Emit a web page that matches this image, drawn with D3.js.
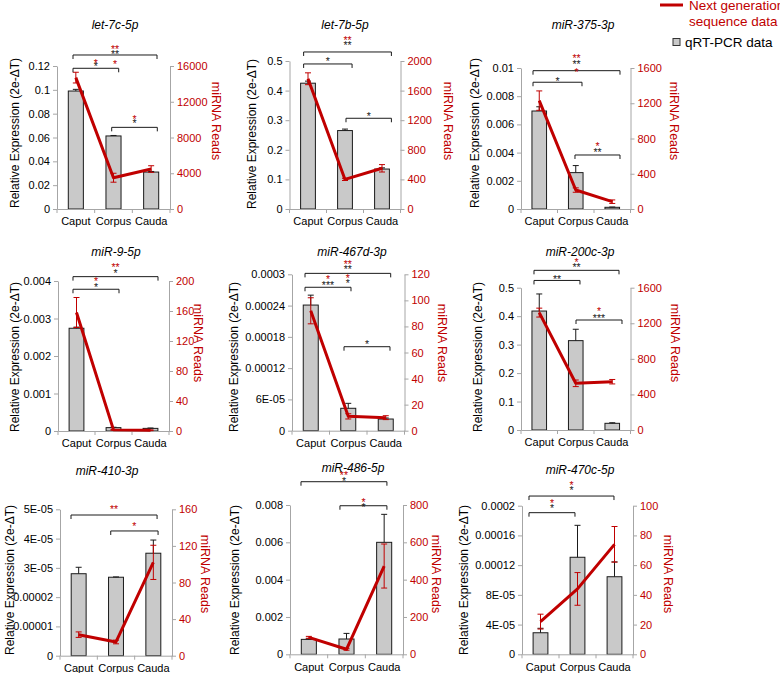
<!DOCTYPE html>
<html><head><meta charset="utf-8">
<script src="https://cdn.jsdelivr.net/npm/d3@7"></script>
<style>body{margin:0;background:#fff}svg{display:block}</style>
</head><body><svg id="c" width="780" height="673"></svg>
<script>
// ---------------- DATA ----------------
const categories = ["Caput", "Corpus", "Cauda"];
const titles = ["let-7c-5p", "let-7b-5p", "miR-375-3p", "miR-9-5p", "miR-467d-3p", "miR-200c-3p", "miR-410-3p", "miR-486-5p", "miR-470c-5p"];

// qRT-PCR relative expression (bars, left axis)
const qpcr = [
  [0.099, 0.0613, 0.031],
  [0.425, 0.265, 0.135],
  [0.00695, 0.00258, 0.00012],
  [0.00274, 0.00009, 0.00007],
  [0.000241, 0.000043, 0.0000224],
  [0.418, 0.314, 0.0235],
  [0.000028, 0.0000268, 0.000035],
  [0.0008, 0.00082, 0.006],
  [0.000029, 0.0001306, 0.0001044]
];
const qpcrErr = [
  [0.0014, 0.0004, 0.0005],
  [0.007, 0.005, 0.004],
  [0.0003, 0.0005, 0.00002],
  [0.00003, 0.00001, 0.00001],
  [0.000019, 0.0000095, 0.000002],
  [0.06, 0.04, 0.002],
  [0.0000022, 0.0000001, 0.0000045],
  [0.00003, 0.0003, 0.0015],
  [0.000006, 0.000043, 0.00002]
];
// Next generation sequencing reads (line, right axis)
const reads = [
  [14700, 3500, 4470],
  [1760, 400, 550],
  [1230, 215, 83],
  [158, 1.5, 1],
  [92, 11, 10],
  [1320, 525, 543],
  [23, 15, 102],
  [91, 27, 473],
  [22, 44, 74]
];
const readsErr = [
  [600, 500, 370],
  [80, 15, 50],
  [110, 25, 20],
  [20, 0.5, 0.5],
  [10, 2, 1.5],
  [50, 37, 25],
  [3, 2, 18.7],
  [5, 5, 118],
  [5, 11, 12]
];
// axes
const leftTickValues = [
  [0, 0.02, 0.04, 0.06, 0.08, 0.1, 0.12],
  [0, 0.1, 0.2, 0.3, 0.4, 0.5],
  [0, 0.002, 0.004, 0.006, 0.008, 0.01],
  [0, 0.001, 0.002, 0.003, 0.004],
  [0, 0.00006, 0.00012, 0.00018, 0.00024, 0.0003],
  [0, 0.1, 0.2, 0.3, 0.4, 0.5],
  [0, 0.00001, 0.00002, 0.00003, 0.00004, 0.00005],
  [0, 0.002, 0.004, 0.006, 0.008],
  [0, 0.00004, 0.00008, 0.00012, 0.00016, 0.0002]
];
const leftTickLabels = [
  ["0", "0.02", "0.04", "0.06", "0.08", "0.1", "0.12"],
  ["0", "0.1", "0.2", "0.3", "0.4", "0.5"],
  ["0", "0.002", "0.004", "0.006", "0.008", "0.01"],
  ["0", "0.001", "0.002", "0.003", "0.004"],
  ["0", "6E-05", "0.00012", "0.00018", "0.00024", "0.0003"],
  ["0", "0.1", "0.2", "0.3", "0.4", "0.5"],
  ["0", "0.00001", "0.00002", "3E-05", "4E-05", "5E-05"],
  ["0", "0.002", "0.004", "0.006", "0.008"],
  ["0", "4E-05", "8E-05", "0.00012", "0.00016", "0.0002"]
];
const rightTickValues = [
  [0, 4000, 8000, 12000, 16000],
  [0, 400, 800, 1200, 1600, 2000],
  [0, 400, 800, 1200, 1600],
  [0, 40, 80, 120, 160, 200],
  [0, 20, 40, 60, 80, 100, 120],
  [0, 400, 800, 1200, 1600],
  [0, 40, 80, 120, 160],
  [0, 200, 400, 600, 800],
  [0, 20, 40, 60, 80, 100]
];
// significance brackets: from/to in category index, level as fraction of left axis max,
// labels [text, colour key, offset of star centre from bracket line]
const brackets = [
  [ {from:-0.075, to:2.155, level:1.077, labels:[["**","r",-7.7],["**","k",-3],["*","r",7]]},
    {from:-0.075, to:1.138, level:0.984, labels:[["*","r",-7.6],["*","k",-4]]},
    {from:0.952, to:2.163, level:0.571, labels:[["*","r",-10.6],["*","k",-6.3]]} ],
  [ {from:-0.118, to:2.254, level:1.061, labels:[["**","r",-13.7],["**","k",-8.7]]},
    {from:-0.118, to:1.191, level:0.98, labels:[["*","k",-4.7]]},
    {from:1.027, to:2.254, level:0.613, labels:[["*","k",-4.3]]} ],
  [ {from:-0.171, to:2.212, level:0.981, labels:[["**","r",-14.7],["**","k",-8.7],["*","r",-0.7]]},
    {from:-0.171, to:1.171, level:0.899, labels:[["*","k",-3.3]]},
    {from:0.979, to:2.212, level:0.383, labels:[["*","r",-11],["**","k",-5]]} ],
  [ {from:-0.095, to:2.203, level:1.029, labels:[["**","r",-11.7],["*","k",-6]]},
    {from:-0.095, to:1.149, level:0.945, labels:[["*","r",-10.3],["*","k",-4.3]]} ],
  [ {from:-0.153, to:2.132, level:1.006, labels:[["**","r",-11.6],["**","k",-6],["*","r",2.4],["*","k",7.7]]},
    {from:-0.153, to:1.073, level:0.917, labels:[["*","r",-10],["***","k",-4]]},
    {from:0.887, to:2.113, level:0.537, labels:[["*","k",-5]]} ],
  [ {from:-0.144, to:2.185, level:1.122, labels:[["*","r",-10.7],["**","k",-5.7]]},
    {from:-0.144, to:1.116, level:1.051, labels:[["**","k",-4]]},
    {from:1.007, to:2.267, level:0.773, labels:[["*","r",-11],["***","k",-4]]} ],
  [ {from:-0.205, to:2.1, level:0.961, labels:[["**","r",-7.7]]},
    {from:0.859, to:2.127, level:0.852, labels:[["*","r",-7]]} ],
  [ {from:-0.208, to:2.073, level:1.156, labels:[["**","r",-8.4],["*","k",-2.7]]},
    {from:0.826, to:2.073, level:0.995, labels:[["*","r",-5.7],["*","k",-0.7]]} ],
  [ {from:-0.311, to:1.986, level:1.065, labels:[["*","r",-13.3],["*","k",-8]]},
    {from:-0.311, to:0.932, level:0.953, labels:[["*","r",-12],["*","k",-6.7]]} ]
];
const legendLine = ["Next generation", "sequence data"];
const legendBar = "qRT-PCR data";
const leftTitle = "Relative Expression (2e-\u0394T)";
const rightTitle = "miRNA Reads";

// ---------------- LAYOUT ----------------
const layout = [
  {L:57,  R:170,   T:66,    B:209,   tx:115, ty:25,    lx:15,  ly:133, rx:216,   ry:121},
  {L:289.5,R:400.5,T:61,    B:209,   tx:345, ty:25,    lx:252, ly:134, rx:447.5, ry:121},
  {L:521, R:630.5, T:68,    B:209,   tx:583, ty:25,    lx:475, ly:133, rx:673.5, ry:121},
  {L:58,  R:169,   T:281,   B:431,   tx:116, ty:252,   lx:15,  ly:357, rx:197.5, ry:343},
  {L:292, R:404.5, T:274.3, B:430.7, tx:352, ty:252,   lx:233.5,ly:357, rx:442,   ry:343},
  {L:521, R:630.5, T:287.7, B:430,   tx:580, ty:252,   lx:478, ly:357, rx:674.5, ry:343},
  {L:60,  R:172,   T:509.3, B:655.7, tx:107, ty:470.7, lx:10,  ly:580, rx:205,   ry:574},
  {L:290, R:403,   T:505,   B:654.3, tx:353, ty:468.3, lx:235, ly:580, rx:435.5, ry:574},
  {L:522, R:633,   T:505.7, B:654.3, tx:580, ty:470,   lx:464, ly:580, rx:668,   ry:574}
];

const RED = "#c00000";
const AXC = "#a6a6a6";
const FONT = "'Liberation Sans', Arial, sans-serif";
const svg = d3.select("#c").attr("font-family", FONT);
svg.append("rect").attr("width", 780).attr("height", 673).attr("fill", "#fff");

titles.forEach((title, i) => {
  const lay = layout[i];
  const g = svg.append("g");
  const x = d3.scaleBand().domain(categories).range([lay.L, lay.R]);
  const band = x.bandwidth();
  const cx = c => x(c) + band / 2;
  const xi = f => lay.L + (f + 0.5) * band;
  const yL = d3.scaleLinear().domain([0, d3.max(leftTickValues[i])]).range([lay.B, lay.T]);
  const yR = d3.scaleLinear().domain([0, d3.max(rightTickValues[i])]).range([lay.B, lay.T]);
  const bw = band / 2.5;

  // bars
  g.selectAll("rect.bar").data(categories).enter().append("rect")
    .attr("x", c => cx(c) - bw / 2).attr("width", bw)
    .attr("y", (c, k) => yL(qpcr[i][k]))
    .attr("height", (c, k) => lay.B - yL(qpcr[i][k]))
    .attr("fill", "#c9c9c9").attr("stroke", "#1a1a1a").attr("stroke-width", 1);
  // bar error bars (plus)
  categories.forEach((c, k) => {
    const y0 = yL(qpcr[i][k]), y1 = yL(qpcr[i][k] + qpcrErr[i][k]);
    g.append("line").attr("x1", cx(c)).attr("x2", cx(c)).attr("y1", y0).attr("y2", y1)
      .attr("stroke", "#1a1a1a").attr("stroke-width", 1);
    g.append("line").attr("x1", cx(c) - 3).attr("x2", cx(c) + 3).attr("y1", y1).attr("y2", y1)
      .attr("stroke", "#1a1a1a").attr("stroke-width", 1);
  });

  // axes
  const axL = d3.axisLeft(yL).tickValues(leftTickValues[i])
    .tickFormat((d, k) => leftTickLabels[i][k]).tickSize(4).tickSizeOuter(0).tickPadding(3);
  const gl = g.append("g").attr("transform", `translate(${lay.L},0)`).call(axL);
  gl.select(".domain").attr("stroke", AXC);
  gl.selectAll(".tick line").attr("stroke", AXC);
  gl.selectAll(".tick text").attr("fill", "#000").attr("font-size", 11).attr("font-family", FONT);

  const axR = d3.axisRight(yR).tickValues(rightTickValues[i])
    .tickFormat(d3.format("d")).tickSize(4).tickSizeOuter(0).tickPadding(3);
  const gr = g.append("g").attr("transform", `translate(${lay.R},0)`).call(axR);
  gr.select(".domain").attr("stroke", AXC);
  gr.selectAll(".tick line").attr("stroke", AXC);
  gr.selectAll(".tick text").attr("fill", RED).attr("font-size", 11).attr("font-family", FONT);

  const axB = d3.axisBottom(x).tickSize(0).tickPadding(8.5);
  const gb = g.append("g").attr("transform", `translate(0,${lay.B})`).call(axB);
  gb.select(".domain").attr("stroke", AXC);
  gb.selectAll(".tick text").attr("fill", "#000").attr("font-size", 11).attr("font-family", FONT);
  d3.range(categories.length + 1).forEach(k => {
    const xx = lay.L + k * band;
    g.append("line").attr("x1", xx).attr("x2", xx).attr("y1", lay.B).attr("y2", lay.B + 4)
      .attr("stroke", AXC);
  });

  // reads line
  const line = d3.line().x((d, k) => cx(categories[k])).y(d => yR(d));
  g.append("path").datum(reads[i]).attr("d", line)
    .attr("fill", "none").attr("stroke", RED).attr("stroke-width", 3).attr("stroke-linejoin", "round");
  categories.forEach((c, k) => {
    const v = reads[i][k], e = readsErr[i][k];
    const ya = yR(v + e), yb = yR(Math.max(0, v - e));
    g.append("line").attr("x1", cx(c)).attr("x2", cx(c)).attr("y1", ya).attr("y2", yb)
      .attr("stroke", RED).attr("stroke-width", 1);
    [ya, yb].forEach(yy => g.append("line").attr("x1", cx(c) - 3).attr("x2", cx(c) + 3)
      .attr("y1", yy).attr("y2", yy).attr("stroke", RED).attr("stroke-width", 1));
  });

  // significance brackets
  const FS = 10.5;
  brackets[i].forEach(b => {
    const yb = yL(b.level * d3.max(leftTickValues[i]));
    const x1 = xi(b.from), x2 = xi(b.to);
    g.append("path").attr("d", `M${x1},${yb + 4}V${yb}H${x2}V${yb + 4}`)
      .attr("fill", "none").attr("stroke", "#1a1a1a").attr("stroke-width", 1);
    b.labels.forEach(l => {
      g.append("text").attr("x", (x1 + x2) / 2).attr("y", yb + l[2] + 0.58 * FS)
        .attr("text-anchor", "middle").attr("font-size", FS)
        .attr("fill", l[1] === "r" ? RED : "#1a1a1a").text(l[0]);
    });
  });

  // titles
  g.append("text").attr("x", lay.tx).attr("y", lay.ty).attr("dominant-baseline", "central")
    .attr("text-anchor", "middle").attr("font-style", "italic").attr("font-size", 12).text(title);
  g.append("text").attr("transform", `translate(${lay.lx},${lay.ly}) rotate(-90)`)
    .attr("dominant-baseline", "central").attr("text-anchor", "middle").attr("font-size", 12)
    .text(leftTitle);
  g.append("text").attr("transform", `translate(${lay.rx},${lay.ry}) rotate(90)`)
    .attr("dominant-baseline", "central").attr("text-anchor", "middle").attr("font-size", 12.5)
    .attr("fill", RED).text(rightTitle);
});

// legend
const lg = svg.append("g").attr("font-size", 13.5);
lg.append("line").attr("x1", 660).attr("x2", 683).attr("y1", 5).attr("y2", 5)
  .attr("stroke", RED).attr("stroke-width", 3);
lg.selectAll("text.l1").data(legendLine).enter().append("text")
  .attr("x", 689).attr("y", (d, k) => 5 + k * 16).attr("dominant-baseline", "central")
  .attr("fill", RED).text(d => d);
lg.append("rect").attr("x", 673).attr("y", 38.5).attr("width", 7).attr("height", 7)
  .attr("fill", "#c9c9c9").attr("stroke", "#333");
lg.append("text").attr("x", 685).attr("y", 42).attr("dominant-baseline", "central")
  .attr("fill", "#000").text(legendBar);
</script>
</body></html>
